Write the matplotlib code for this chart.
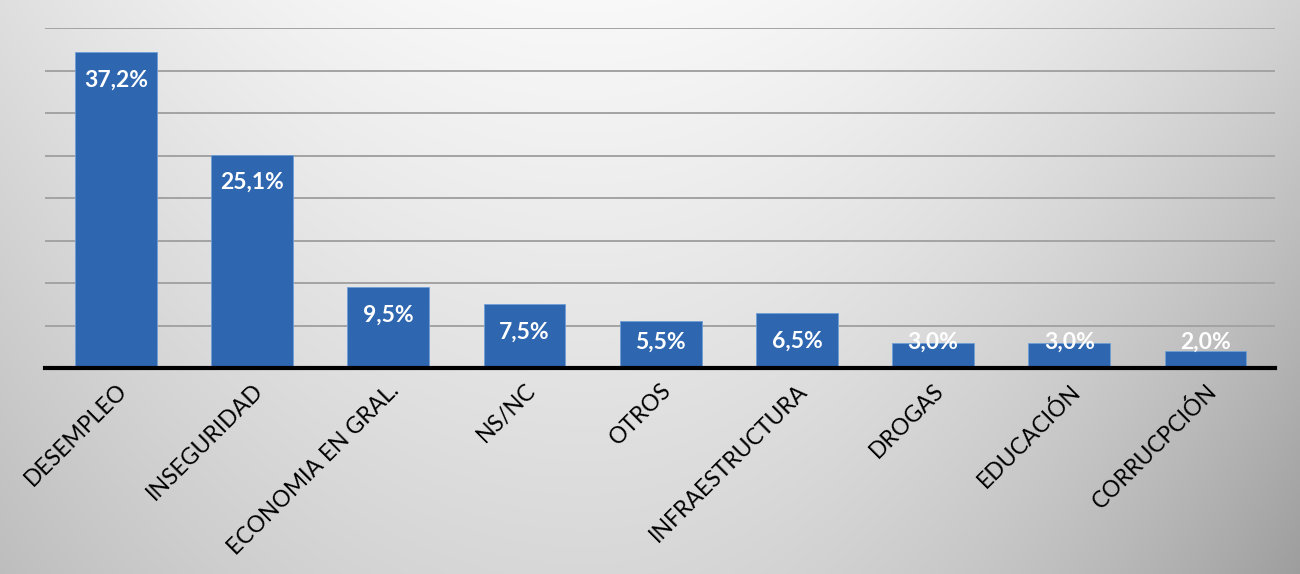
import numpy as np
import matplotlib
matplotlib.use("Agg")
import matplotlib.pyplot as plt

categories = ["DESEMPLEO", "INSEGURIDAD", "ECONOMIA EN GRAL.", "NS/NC", "OTROS",
              "INFRAESTRUCTURA", "DROGAS", "EDUCACIÓN", "CORRUCPCIÓN"]
values = [37.2, 25.1, 9.5, 7.5, 5.5, 6.5, 3.0, 3.0, 2.0]
value_labels = ["37,2%", "25,1%", "9,5%", "7,5%", "5,5%", "6,5%", "3,0%", "3,0%", "2,0%"]
y_ticks = [0, 5, 10, 15, 20, 25, 30, 35, 40]

plt.rcParams['font.family'] = ['Lato', 'DejaVu Sans']

fig = plt.figure(figsize=(13, 5.74), dpi=100)

# background gradient
bg = fig.add_axes([0, 0, 1, 1], zorder=-10)
bg.set_axis_off()
yy, xx = np.mgrid[0:1:300j, 0:1:600j]
dx = xx - 0.45
shade = 0.975 - 0.13 * yy - 0.5 * dx ** 2 - 0.25 * np.clip(dx, 0, None) ** 2 * yy
img = np.dstack([shade, shade, shade])
bg.imshow(img, extent=[0, 1, 0, 1], aspect='auto', origin='upper')
bg.set_xlim(0, 1)
bg.set_ylim(0, 1)

ax = fig.add_axes([45 / 1300, 1 - 368 / 574, 1230 / 1300, 340 / 574])
ax.patch.set_alpha(0)
x = np.arange(len(categories))
ax.bar(x, values, width=0.6, color='#2e66b0', edgecolor='#6f9fd6', linewidth=0.6, zorder=3)
ax.set_xlim(-0.52, 8.51)
ax.set_ylim(0, 40)
ax.set_yticks(y_ticks)
ax.yaxis.grid(True, color='#a3a3a3', linewidth=1.4, zorder=0)
ax.tick_params(axis='y', left=False, labelleft=False)
ax.tick_params(axis='x', bottom=False, pad=5)
for s in ['top', 'right', 'left']:
    ax.spines[s].set_visible(False)
ax.spines['bottom'].set_color('black')
ax.spines['bottom'].set_linewidth(3)
ax.spines['bottom'].set_zorder(5)
ax.set_axisbelow(True)

ax.set_xticks(x)
ax.set_xticklabels(categories, rotation=45, ha='right', rotation_mode='anchor',
                   fontsize=16.5, color='black')

for xi, v, lab in zip(x, values, value_labels):
    ypos = max(v - 3.3, 3.0)
    ax.text(xi, ypos, lab, ha='center', va='center', color='white',
            fontsize=16.5, fontweight='bold', zorder=6)

fig.savefig("out.png", dpi=100)
